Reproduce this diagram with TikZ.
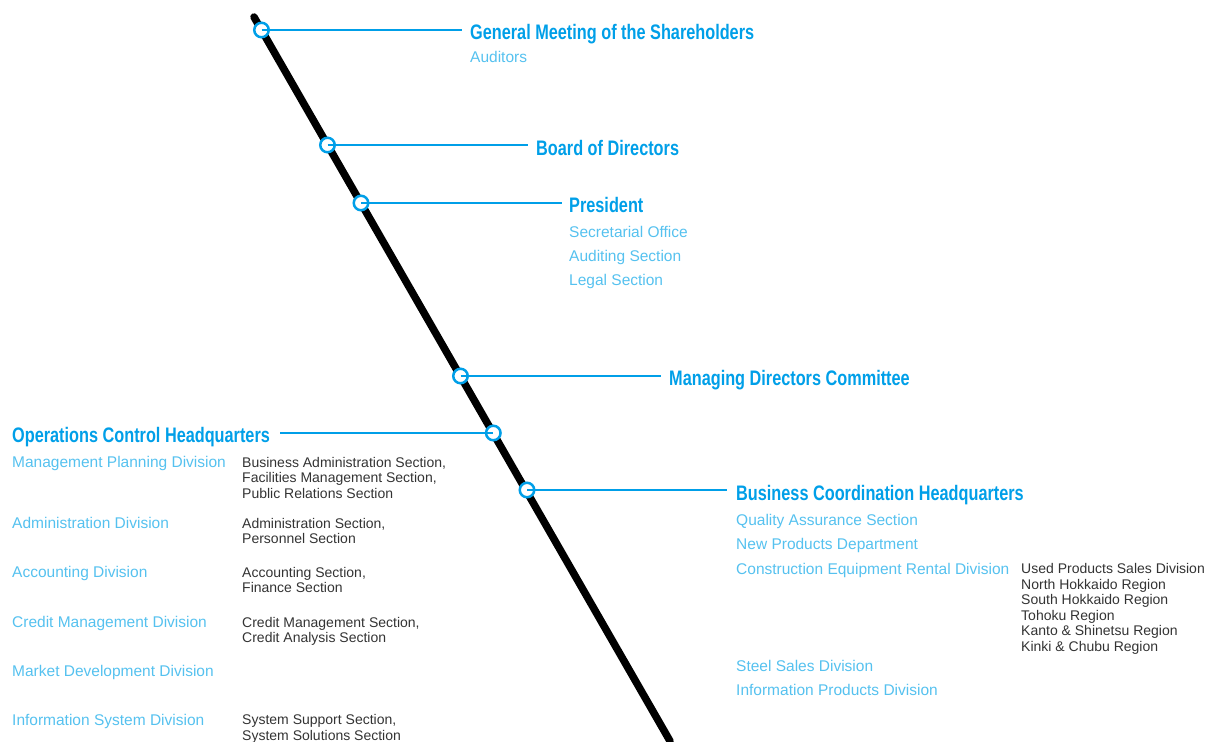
\documentclass[tikz,border=0pt]{standalone}
\usepackage{fontspec}
\setmainfont{Liberation Sans}
\newfontfamily\headfont{Liberation Sans}[FakeStretch=0.775]
\definecolor{hblue}{HTML}{009FE8}
\definecolor{lblue}{HTML}{55C1EF}
\definecolor{dgray}{HTML}{333333}
\newcommand{\twolines}[1]{\vtop{\fontsize{14}{15.5}\selectfont #1}}
\begin{document}
\begin{tikzpicture}[x=1pt,y=-1pt,
  headtxt/.style={anchor=base west,inner sep=0pt,text=hblue,font=\headfont\bfseries\fontsize{21}{21}\selectfont},
  subtxt/.style={anchor=base west,inner sep=0pt,text=lblue,font=\fontsize{15.5}{18}\selectfont},
  sectxt/.style={anchor=base west,inner sep=0pt,text=dgray,font=\fontsize{14}{15.5}\selectfont},
  knot/.style={circle,draw=hblue,line width=2.5pt,fill=white,minimum size=14.5pt,inner sep=0pt},
  link/.style={draw=hblue,line width=1.4pt}]
\useasboundingbox (0,0) rectangle (1209,741);
% main spine
\coordinate (top) at (254,17);
\coordinate (bot) at (670,741);
\draw[line width=7.5pt,line cap=round] (top) -- (bot);
% knots
\node[knot] (k1) at (261.5,30) {};
\node[knot] (k2) at (327.5,145) {};
\node[knot] (k3) at (361,203) {};
\node[knot] (k4) at (460.5,376) {};
\node[knot] (k5) at (493.3,433) {};
\node[knot] (k6) at (527,490) {};
% headings
\node[headtxt] (h1) at (470,40) {General Meeting of the Shareholders};
\node[headtxt] (h2) at (536,155) {Board of Directors};
\node[headtxt] (h3) at (569,212) {President};
\node[headtxt] (h4) at (669,385) {Managing Directors Committee};
\node[headtxt] (h5) at (12,442) {Operations Control Headquarters};
\node[headtxt] (h6) at (736,500) {Business Coordination Headquarters};
% links
\draw[link] (k1.center) -- ([xshift=-8pt]k1.center -| h1.west);
\draw[link] (k2.center) -- ([xshift=-8pt]k2.center -| h2.west);
\draw[link] (k3.center) -- ([xshift=-7pt]k3.center -| h3.west);
\draw[link] (k4.center) -- ([xshift=-8pt]k4.center -| h4.west);
\draw[link] ([xshift=10pt]k5.center -| h5.east) -- (k5.center);
\draw[link] (k6.center) -- ([xshift=-9pt]k6.center -| h6.west);
% sub items
\node[subtxt] (s1) at (470,63) {Auditors};
\node[subtxt] (s2) at (569,237) {Secretarial Office};
\node[subtxt] (s3) at (569,261) {Auditing Section};
\node[subtxt] (s4) at (569,285) {Legal Section};
% left divisions
\node[subtxt] (d1) at (12,467) {Management Planning Division};
\node[subtxt] (d2) at (12,528) {Administration Division};
\node[subtxt] (d3) at (12,577) {Accounting Division};
\node[subtxt] (d4) at (12,627) {Credit Management Division};
\node[subtxt] (d5) at (12,676) {Market Development Division};
\node[subtxt] (d6) at (12,725) {Information System Division};
\node[sectxt] (e1) at (242,467) {\twolines{\hbox{Business Administration Section,}\hbox{Facilities Management Section,}\hbox{Public Relations Section}}};
\node[sectxt] (e2) at (242,528) {\twolines{\hbox{Administration Section,}\hbox{Personnel Section}}};
\node[sectxt] (e3) at (242,577) {\twolines{\hbox{Accounting Section,}\hbox{Finance Section}}};
\node[sectxt] (e4) at (242,627) {\twolines{\hbox{Credit Management Section,}\hbox{Credit Analysis Section}}};
\node[sectxt] (e6) at (242,724.5) {\twolines{\hbox{System Support Section,}\hbox{System Solutions Section}}};
% right side
\node[subtxt] (r1) at (736,525) {Quality Assurance Section};
\node[subtxt] (r2) at (736,549) {New Products Department};
\node[subtxt] (r3) at (736,574) {Construction Equipment Rental Division};
\node[subtxt] (r4) at (736,671) {Steel Sales Division};
\node[subtxt] (r5) at (736,695) {Information Products Division};
\node[sectxt] (q1) at (1021,573.5) {\twolines{\hbox{Used Products Sales Division}\hbox{North Hokkaido Region}\hbox{South Hokkaido Region}\hbox{Tohoku Region}\hbox{Kanto \& Shinetsu Region}\hbox{Kinki \& Chubu Region}}};
\end{tikzpicture}
\end{document}
